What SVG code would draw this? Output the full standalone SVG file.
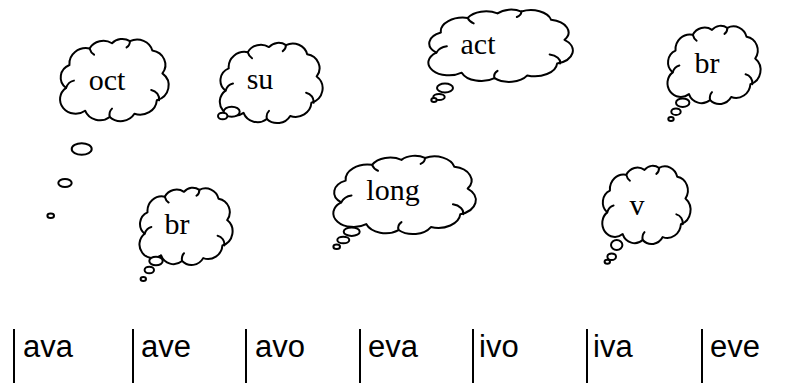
<svg xmlns="http://www.w3.org/2000/svg" xmlns:xlink="http://www.w3.org/1999/xlink" width="806" height="383" viewBox="0 0 806 383">
<style>
.cl{fill:#fff;stroke:#000;stroke-width:2;vector-effect:non-scaling-stroke;stroke-linejoin:round}
.cr{fill:none;stroke:#000;stroke-width:2;vector-effect:non-scaling-stroke;stroke-linecap:round}
.tl{fill:#fff;stroke:#000;stroke-width:2}
.ct{font-family:"Liberation Serif","Times New Roman",serif;font-size:30px;fill:#000;text-anchor:middle}
.lb{font-family:"Liberation Sans",Arial,sans-serif;font-size:31px;fill:#000}
.bar{stroke:#000;stroke-width:2}
</style>
<defs>
<path id="cloud" class="cl" d="M9,50 A13 13 0 0 1 12,28 A15 15 0 0 1 30,12 A14 14 0 0 1 50,7 A12 12 0 0 1 66,5 A14 14 0 0 1 86,14 A14 14 0 0 1 95,36 A15 15 0 0 1 90,62 A15 15 0 0 1 70,75 A14 14 0 0 1 48,78 A14 14 0 0 1 26,72 A13 13 0 0 1 9,50 Z"/>
<path id="crease" class="cr" d="M85,52 A9 9 0 0 1 92,62 M9,50 Q11,44 16,43 M48,78 Q47,73 50,70 M30,12 Q31,16 34,18 M66,5 Q66,9 63,11"/>
<g id="cloudshape"><use xlink:href="#cloud"/><use xlink:href="#crease"/></g>
</defs>
<g id="connectors"/>
<g id="node-oct">
<use xlink:href="#cloudshape" transform="translate(56,36) scale(1.12,1.0375)"/>
<ellipse class="tl" cx="81.7" cy="149" rx="10" ry="5.7"/>
<ellipse class="tl" cx="65" cy="183" rx="6.7" ry="4"/>
<ellipse class="tl" cx="50.7" cy="215.7" rx="3.3" ry="2.3"/>
<text class="ct" x="107" y="90">oct</text>
</g>
<g id="node-su">
<use xlink:href="#cloudshape" transform="translate(216,40) scale(1.06,1.0125)"/>
<ellipse class="tl" cx="231.7" cy="111.7" rx="8" ry="5"/>
<ellipse class="tl" cx="222.7" cy="116" rx="4.7" ry="3.3"/>
<text class="ct" x="260" y="89">su</text>
</g>
<g id="node-act">
<use xlink:href="#cloudshape" transform="translate(423,7) scale(1.49,0.9125)"/>
<ellipse class="tl" cx="445" cy="88" rx="8" ry="4.5"/>
<ellipse class="tl" cx="439" cy="97" rx="5.7" ry="3"/>
<ellipse class="tl" cx="434" cy="100" rx="2.7" ry="2"/>
<text class="ct" x="478" y="54">act</text>
</g>
<g id="node-br-top">
<use xlink:href="#cloudshape" transform="translate(664,23) scale(0.96,0.9875)"/>
<ellipse class="tl" cx="682.7" cy="102.7" rx="6.7" ry="4.3"/>
<ellipse class="tl" cx="676" cy="111.7" rx="4.7" ry="3.3"/>
<ellipse class="tl" cx="671" cy="119" rx="2.7" ry="2"/>
<text class="ct" x="707" y="73">br</text>
</g>
<g id="node-br-bottom">
<use xlink:href="#cloudshape" transform="translate(136,185) scale(0.96,0.975)"/>
<ellipse class="tl" cx="156" cy="261" rx="6.7" ry="4.3"/>
<ellipse class="tl" cx="149.3" cy="270" rx="4.7" ry="3.3"/>
<ellipse class="tl" cx="143.3" cy="279" rx="2.7" ry="2"/>
<text class="ct" x="177" y="234">br</text>
</g>
<g id="node-long">
<use xlink:href="#cloudshape" transform="translate(328,153) scale(1.47,0.9875)"/>
<ellipse class="tl" cx="351.7" cy="231.7" rx="8" ry="4.3"/>
<ellipse class="tl" cx="343.3" cy="240" rx="6" ry="3.3"/>
<ellipse class="tl" cx="336.7" cy="246.7" rx="3.3" ry="2.3"/>
<text class="ct" x="393" y="200">long</text>
</g>
<g id="node-v">
<use xlink:href="#cloudshape" transform="translate(599,163) scale(0.91,0.9875)"/>
<ellipse class="tl" cx="616.7" cy="245" rx="5.7" ry="5"/>
<ellipse class="tl" cx="611.7" cy="256.7" rx="4.3" ry="3.3"/>
<ellipse class="tl" cx="607.3" cy="261.7" rx="2.7" ry="2"/>
<text class="ct" x="637" y="215">v</text>
</g>
<g id="row">
<g id="cell-ava"><line class="bar" x1="14" y1="329" x2="14" y2="383"/><text class="lb" x="23" y="357">ava</text></g>
<g id="cell-ave"><line class="bar" x1="133" y1="329" x2="133" y2="383"/><text class="lb" x="141" y="357">ave</text></g>
<g id="cell-avo"><line class="bar" x1="246" y1="329" x2="246" y2="383"/><text class="lb" x="255" y="357">avo</text></g>
<g id="cell-eva"><line class="bar" x1="360" y1="329" x2="360" y2="383"/><text class="lb" x="368" y="357">eva</text></g>
<g id="cell-ivo"><line class="bar" x1="473" y1="329" x2="473" y2="383"/><text class="lb" x="479" y="357">ivo</text></g>
<g id="cell-iva"><line class="bar" x1="587" y1="329" x2="587" y2="383"/><text class="lb" x="593" y="357">iva</text></g>
<g id="cell-eve"><line class="bar" x1="702" y1="329" x2="702" y2="383"/><text class="lb" x="710" y="357">eve</text></g>
</g>
</svg>
